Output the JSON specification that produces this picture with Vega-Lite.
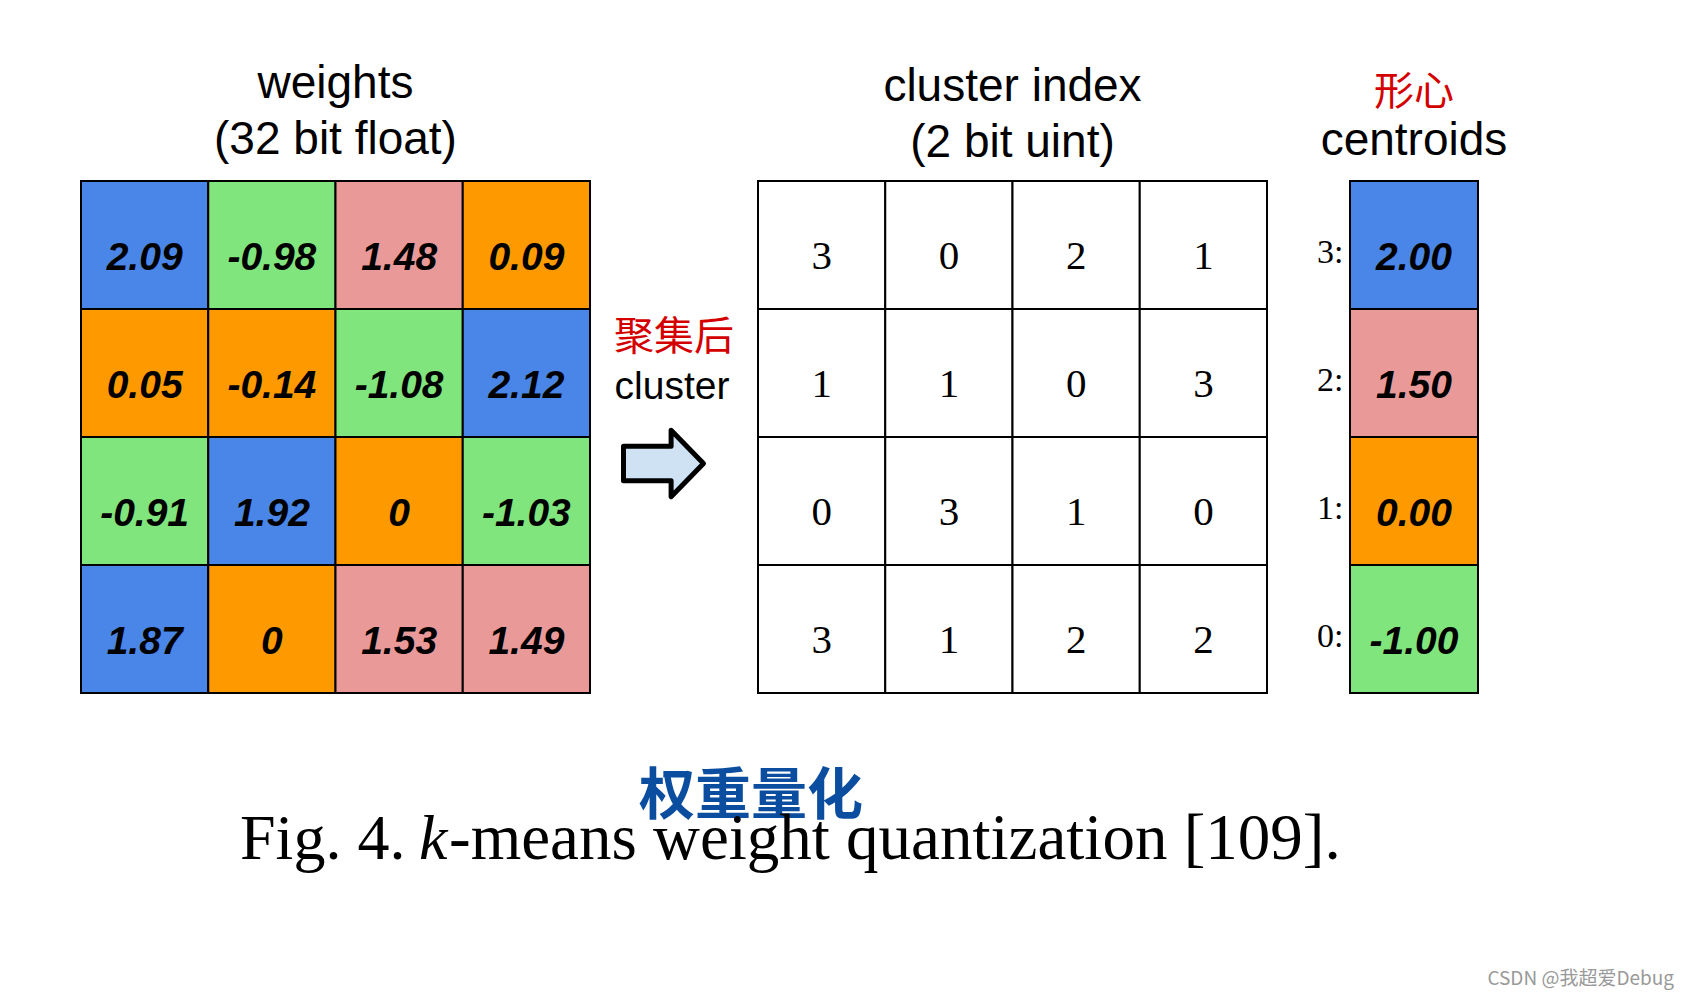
{
  "$schema": "https://vega.github.io/schema/vega-lite/v6.json",
  "padding": {"left": 80, "top": 61, "right": 0, "bottom": 0},
  "background": "white",
  "config": {"view": {"stroke": null}},
  "datasets": {
    "weights": [
      {"row": 0, "col": 0, "w": 2.09, "c": 3},
      {"row": 0, "col": 1, "w": -0.98, "c": 0},
      {"row": 0, "col": 2, "w": 1.48, "c": 2},
      {"row": 0, "col": 3, "w": 0.09, "c": 1},
      {"row": 1, "col": 0, "w": 0.05, "c": 1},
      {"row": 1, "col": 1, "w": -0.14, "c": 1},
      {"row": 1, "col": 2, "w": -1.08, "c": 0},
      {"row": 1, "col": 3, "w": 2.12, "c": 3},
      {"row": 2, "col": 0, "w": -0.91, "c": 0},
      {"row": 2, "col": 1, "w": 1.92, "c": 3},
      {"row": 2, "col": 2, "w": 0, "c": 1},
      {"row": 2, "col": 3, "w": -1.03, "c": 0},
      {"row": 3, "col": 0, "w": 1.87, "c": 3},
      {"row": 3, "col": 1, "w": 0, "c": 1},
      {"row": 3, "col": 2, "w": 1.53, "c": 2},
      {"row": 3, "col": 3, "w": 1.49, "c": 2}
    ],
    "centroids": [
      {"c": 3, "v": "2.00"},
      {"c": 2, "v": "1.50"},
      {"c": 1, "v": "0.00"},
      {"c": 0, "v": "-1.00"}
    ]
  },
  "bounds": "flush",
  "spacing": 0,
  "vconcat": [
    {
      "bounds": "flush",
      "spacing": 0,
      "hconcat": [
        {
          "width": 509,
          "height": 512,
          "title": {"text": ["weights", "(32 bit float)"], "font": "Liberation Sans", "fontSize": 46, "fontWeight": "normal", "lineHeight": 56, "offset": 16, "color": "black", "anchor": "middle"},
          "data": {"name": "weights"},
          "encoding": {
            "x": {"field": "col", "type": "ordinal", "axis": null, "scale": {"paddingInner": 0, "paddingOuter": 0}},
            "y": {"field": "row", "type": "ordinal", "axis": null, "scale": {"paddingInner": 0, "paddingOuter": 0}}
          },
          "layer": [
            {
              "mark": {"type": "rect", "stroke": "black", "strokeWidth": 2},
              "encoding": {"color": {"field": "c", "type": "nominal", "legend": null, "scale": {"domain": [0, 1, 2, 3], "range": ["#80e57d", "#ff9900", "#ea9999", "#4a86e8"]}}}
            },
            {
              "mark": {"type": "text", "font": "Liberation Sans", "fontSize": 39, "fontWeight": "bold", "fontStyle": "italic", "dy": 13, "color": "black"},
              "encoding": {"text": {"field": "w", "type": "nominal"}}
            }
          ]
        },
        {
          "width": 168,
          "height": 512,
          "layer": [
            {
              "data": {"values": [{"t": "聚集后"}]},
              "mark": {"type": "text", "font": "Noto Sans CJK SC", "fontSize": 40, "color": "#d40000"},
              "encoding": {"text": {"field": "t", "type": "nominal"}, "x": {"value": 84}, "y": {"value": 157}}
            },
            {
              "data": {"values": [{"t": "cluster"}]},
              "mark": {"type": "text", "font": "Liberation Sans", "fontSize": 39, "color": "black", "baseline": "alphabetic"},
              "encoding": {"text": {"field": "t", "type": "nominal"}, "x": {"value": 82}, "y": {"value": 218}}
            },
            {
              "data": {"values": [{"t": "arrow"}]},
              "mark": {"type": "point", "shape": "M -1 -0.43 L 0.19 -0.43 L 0.19 -0.83 L 1 0 L 0.19 0.83 L 0.19 0.43 L -1 0.43 Z", "filled": true, "fill": "#cfe2f3", "stroke": "black", "strokeWidth": 5, "strokeJoin": "round", "size": 6400, "opacity": 1, "fillOpacity": 1, "strokeOpacity": 1},
              "encoding": {"x": {"value": 73.5}, "y": {"value": 282.5}}
            }
          ]
        },
        {
          "width": 509,
          "height": 512,
          "title": {"text": ["cluster index", "(2 bit uint)"], "font": "Liberation Sans", "fontSize": 46, "fontWeight": "normal", "lineHeight": 56, "offset": 13, "color": "black", "anchor": "middle"},
          "data": {"name": "weights"},
          "encoding": {
            "x": {"field": "col", "type": "ordinal", "axis": null, "scale": {"paddingInner": 0, "paddingOuter": 0}},
            "y": {"field": "row", "type": "ordinal", "axis": null, "scale": {"paddingInner": 0, "paddingOuter": 0}}
          },
          "layer": [
            {"mark": {"type": "rect", "fill": "white", "stroke": "black", "strokeWidth": 2}},
            {
              "mark": {"type": "text", "font": "Liberation Serif", "fontSize": 41, "dy": 12, "color": "black"},
              "encoding": {"text": {"field": "c", "type": "nominal"}}
            }
          ]
        },
        {
          "width": 83,
          "height": 512,
          "data": {"values": [{}]},
          "mark": {"type": "point", "opacity": 0}
        },
        {
          "width": 128,
          "height": 512,
          "title": {"text": "形心", "font": "Noto Sans CJK SC", "fontSize": 40, "fontWeight": "normal", "color": "#d40000", "subtitle": "centroids", "subtitleFont": "Liberation Sans", "subtitleFontSize": 46, "subtitleColor": "black", "subtitlePadding": 6, "offset": 16, "anchor": "middle"},
          "data": {"name": "centroids"},
          "encoding": {
            "y": {"field": "c", "type": "ordinal", "sort": "descending", "scale": {"paddingInner": 0, "paddingOuter": 0},
                  "axis": {"title": null, "domain": false, "ticks": false, "labelFont": "Liberation Serif", "labelFontSize": 34, "labelColor": "black", "labelPadding": 7, "labelOffset": 8, "labelExpr": "datum.label + ':'"}}
          },
          "layer": [
            {
              "mark": {"type": "rect", "stroke": "black", "strokeWidth": 2},
              "encoding": {
                "x": {"value": 0}, "x2": {"value": "width"},
                "color": {"field": "c", "type": "nominal", "legend": null, "scale": {"domain": [0, 1, 2, 3], "range": ["#80e57d", "#ff9900", "#ea9999", "#4a86e8"]}}
              }
            },
            {
              "mark": {"type": "text", "font": "Liberation Sans", "fontSize": 39, "fontWeight": "bold", "fontStyle": "italic", "dy": 13, "color": "black"},
              "encoding": {"text": {"field": "v", "type": "nominal"}}
            }
          ]
        }
      ]
    },
    {
      "width": 1397,
      "height": 820,
      "layer": [
        {
          "data": {"values": [{"t": "权重量化"}]},
          "mark": {"type": "text", "font": "Noto Sans CJK SC", "fontSize": 56, "fontWeight": "bold", "color": "#0b4d9e"},
          "encoding": {"text": {"field": "t", "type": "nominal"}, "x": {"value": 670}, "y": {"value": 616}}
        },
        {
          "data": {"values": [{"t": "Fig. 4."}]},
          "mark": {"type": "text", "font": "Liberation Serif", "fontSize": 64, "color": "black", "align": "left", "baseline": "alphabetic"},
          "encoding": {"text": {"field": "t", "type": "nominal"}, "x": {"value": 159}, "y": {"value": 678}}
        },
        {
          "data": {"values": [{"t": "k"}]},
          "mark": {"type": "text", "font": "Liberation Serif", "fontSize": 64, "fontStyle": "italic", "color": "black", "align": "left", "baseline": "alphabetic"},
          "encoding": {"text": {"field": "t", "type": "nominal"}, "x": {"value": 338}, "y": {"value": 678}}
        },
        {
          "data": {"values": [{"t": "-means weight quantization [109]."}]},
          "mark": {"type": "text", "font": "Liberation Serif", "fontSize": 65, "color": "black", "align": "left", "baseline": "alphabetic"},
          "encoding": {"text": {"field": "t", "type": "nominal"}, "x": {"value": 368}, "y": {"value": 678}}
        },
        {
          "data": {"values": [{"t": "CSDN @我超爱Debug"}]},
          "mark": {"type": "text", "font": "Noto Sans CJK SC", "fontSize": 19, "color": "#999999", "align": "right", "baseline": "alphabetic"},
          "encoding": {"text": {"field": "t", "type": "nominal"}, "x": {"value": 1593}, "y": {"value": 804}}
        }
      ]
    }
  ]
}
